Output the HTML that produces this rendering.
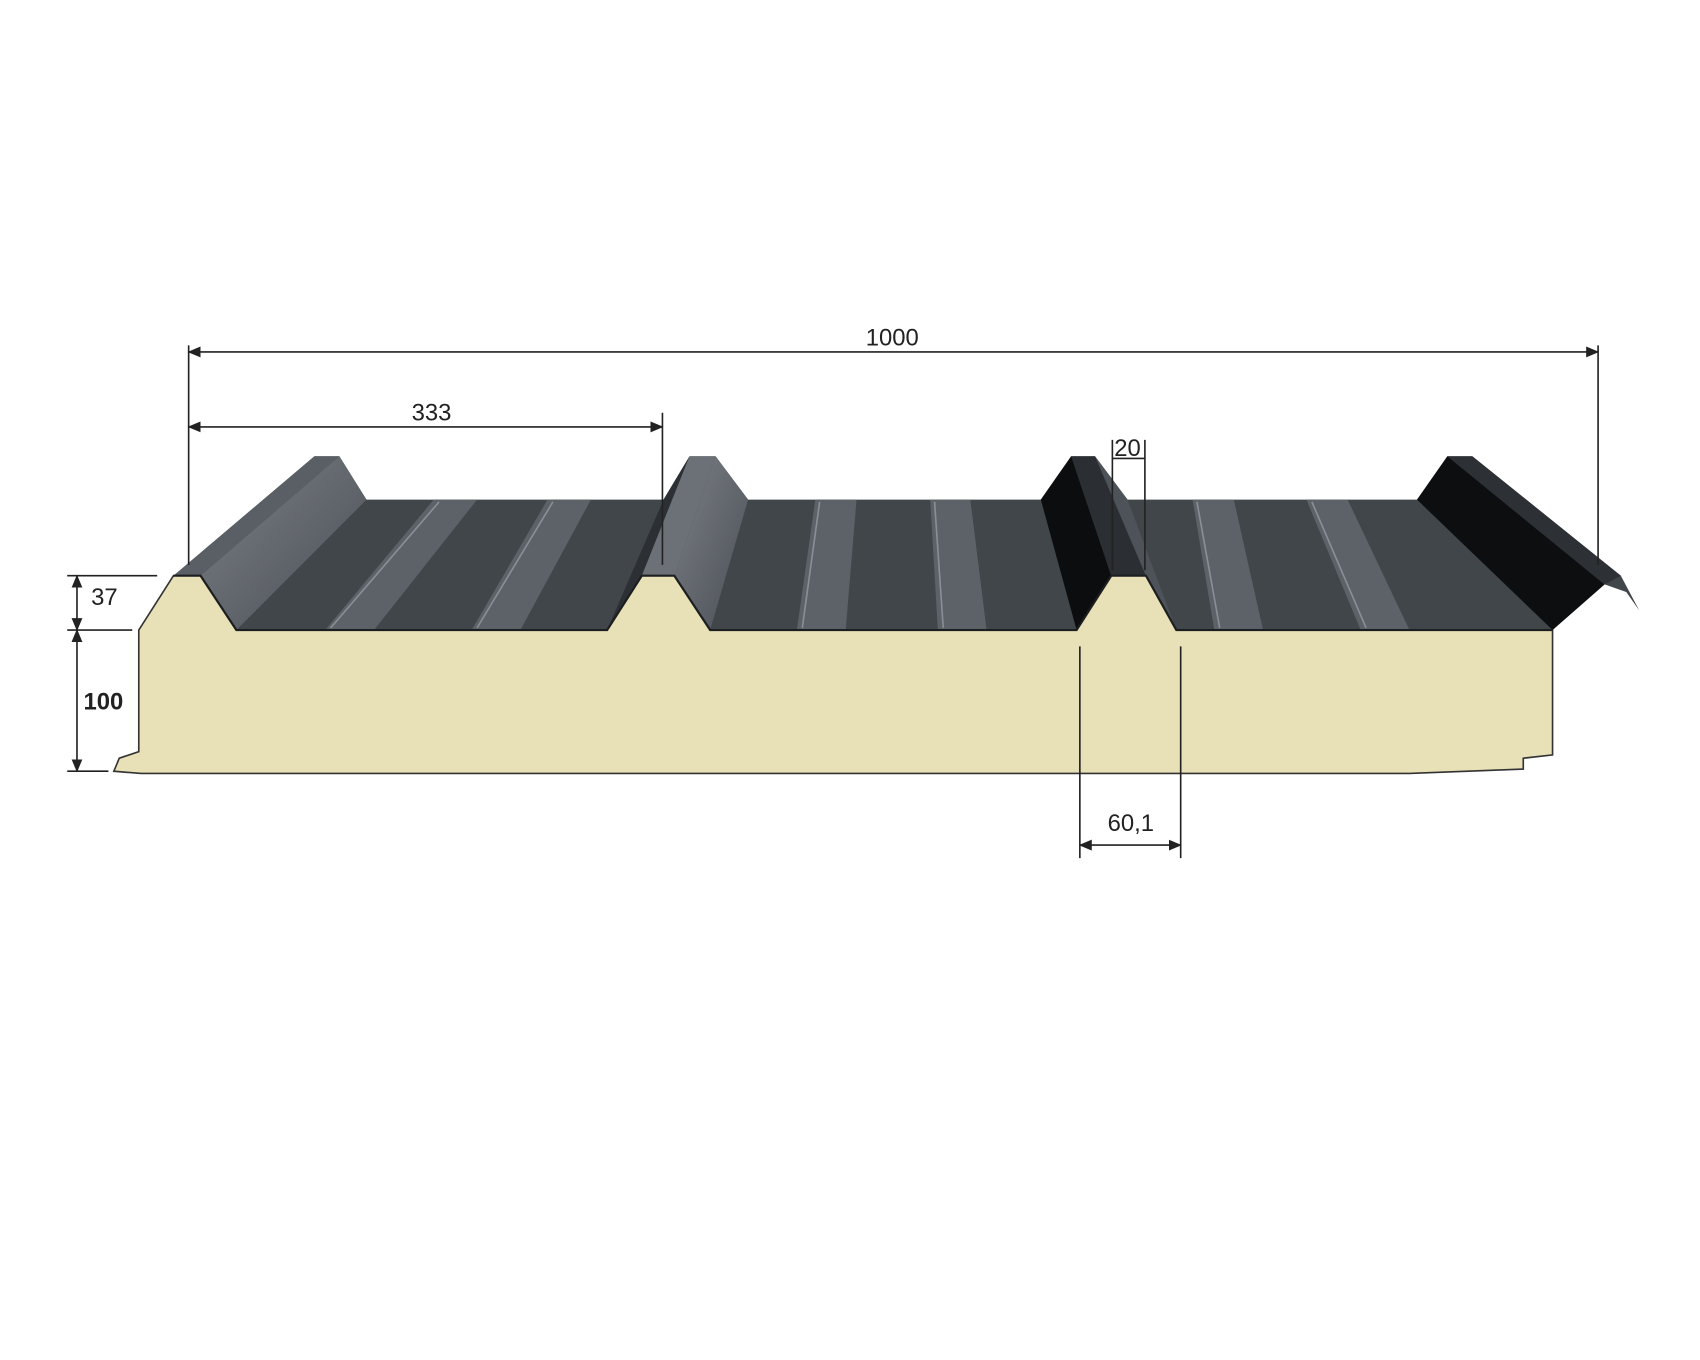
<!DOCTYPE html>
<html><head><meta charset="utf-8"><style>
html,body{margin:0;padding:0;background:#fff;width:1700px;height:1360px;overflow:hidden}
svg{display:block}
text{font-family:"Liberation Sans",sans-serif;fill:#222}
</style></head><body>
<svg width="1700" height="1360" viewBox="0 0 1568 1252" preserveAspectRatio="none">
<defs>
<marker id="a" markerWidth="12" markerHeight="10" refX="11" refY="5" orient="auto-start-reverse" markerUnits="userSpaceOnUse">
<path d="M0,0 L12,5 L0,10 z" fill="#222"/></marker>
<linearGradient id="g1" x1="0" y1="0" x2="1" y2="1"><stop offset="0" stop-color="#7b8086"/><stop offset="1" stop-color="#4a4f55"/></linearGradient>
</defs>
<path d="M128,580 L160,530 L185,530 L218,580 L560,580 L592,530 L622,530 L655,580 L993,580 L1025,530 L1057,530 L1085,580 L1432,580 L1432,695 L1405,698 L1405,708 L1300,712 L130,712 L105,710 L110,698 L128,692 Z" fill="#e8e0b7" stroke="#333" stroke-width="1.5"/>
<path d="M160,530 L290,420 L313,420 L338,460 L612,460 L636,420 L660,420 L690,460 L960,460 L988,420 L1010,420 L1040,460 L1307,460 L1335,420 L1358,420 L1495,530 L1512,562 L1500,545 L1480,538 L1432,580 L1085,580 L1057,530 L1025,530 L993,580 L655,580 L622,530 L592,530 L560,580 L218,580 L185,530 Z" fill="#41464b"/>
<path d="M160,530 L290,420 L313,420 L185,530 Z" fill="#5a5f65"/>
<path d="M185,530 L313,420 L338,460 L218,580 Z" fill="url(#g1)"/>
<path d="M560,580 L592,530 L636,420 L612,460 Z" fill="#2c3034"/>
<path d="M592,530 L636,420 L660,420 L622,530 Z" fill="#6c7177"/>
<path d="M622,530 L660,420 L690,460 L655,580 Z" fill="url(#g1)"/>
<path d="M960,460 L988,420 L1025,530 L993,580 Z" fill="#0c0d0f"/>
<path d="M988,420 L1010,420 L1057,530 L1025,530 Z" fill="#2b2e32"/>
<path d="M1010,420 L1040,460 L1085,580 L1057,530 Z" fill="#4e5359"/>
<path d="M1307,460 L1335,420 L1480,538 L1432,580 Z" fill="#0d0e10"/>
<path d="M1335,420 L1358,420 L1495,530 L1480,538 Z" fill="#2d3034"/>
<g fill="#5d6268">
<path d="M300,580 L400,460 L440,460 L345,580 Z"/>
<path d="M435,580 L505,460 L545,460 L480,580 Z"/>
<path d="M735,580 L752,460 L790,460 L780,580 Z"/>
<path d="M865,580 L858,460 L895,460 L910,580 Z"/>
<path d="M1120,580 L1100,460 L1138,460 L1165,580 Z"/>
<path d="M1255,580 L1205,460 L1243,460 L1300,580 Z"/>
</g>
<g stroke="#8a8f95" stroke-width="1.5" fill="none">
<path d="M305,578 L405,462"/><path d="M440,578 L510,462"/><path d="M740,578 L756,462"/>
<path d="M870,578 L862,462"/><path d="M1125,578 L1104,462"/><path d="M1260,578 L1210,462"/>
</g>
<path d="M160,530 L185,530 L218,580 L560,580 L592,530 L622,530 L655,580 L993,580 L1025,530 L1057,530 L1085,580 L1432,580" fill="none" stroke="#1c1e20" stroke-width="2"/>
<g stroke="#222" stroke-width="1.5" fill="none">
<line x1="174" y1="324" x2="1474" y2="324" marker-start="url(#a)" marker-end="url(#a)"/>
<line x1="174" y1="318" x2="174" y2="520"/><line x1="1474" y1="318" x2="1474" y2="520"/>
<line x1="174" y1="393" x2="611" y2="393" marker-start="url(#a)" marker-end="url(#a)"/>
<line x1="611" y1="380" x2="611" y2="520"/>
<line x1="1026" y1="405" x2="1026" y2="525"/><line x1="1056" y1="405" x2="1056" y2="525"/>
<line x1="1026" y1="422" x2="1056" y2="422"/>
<line x1="996" y1="595" x2="996" y2="790"/><line x1="1089" y1="595" x2="1089" y2="790"/>
<line x1="996" y1="778" x2="1089" y2="778" marker-start="url(#a)" marker-end="url(#a)"/>
<line x1="62" y1="530" x2="145" y2="530"/><line x1="62" y1="580" x2="122" y2="580"/>
<line x1="71" y1="530" x2="71" y2="580" marker-start="url(#a)" marker-end="url(#a)"/>
<line x1="71" y1="580" x2="71" y2="710" marker-start="url(#a)" marker-end="url(#a)"/>
<line x1="62" y1="710" x2="100" y2="710"/>
</g>
<text x="823" y="318" font-size="22" text-anchor="middle">1000</text>
<text x="398" y="387" font-size="22" text-anchor="middle">333</text>
<text x="1040" y="420" font-size="22" text-anchor="middle">20</text>
<text x="1043" y="765" font-size="22" text-anchor="middle">60,1</text>
<text x="84" y="557" font-size="22">37</text>
<text x="77" y="653" font-size="22" font-weight="bold">100</text>
</svg>
</body></html>
